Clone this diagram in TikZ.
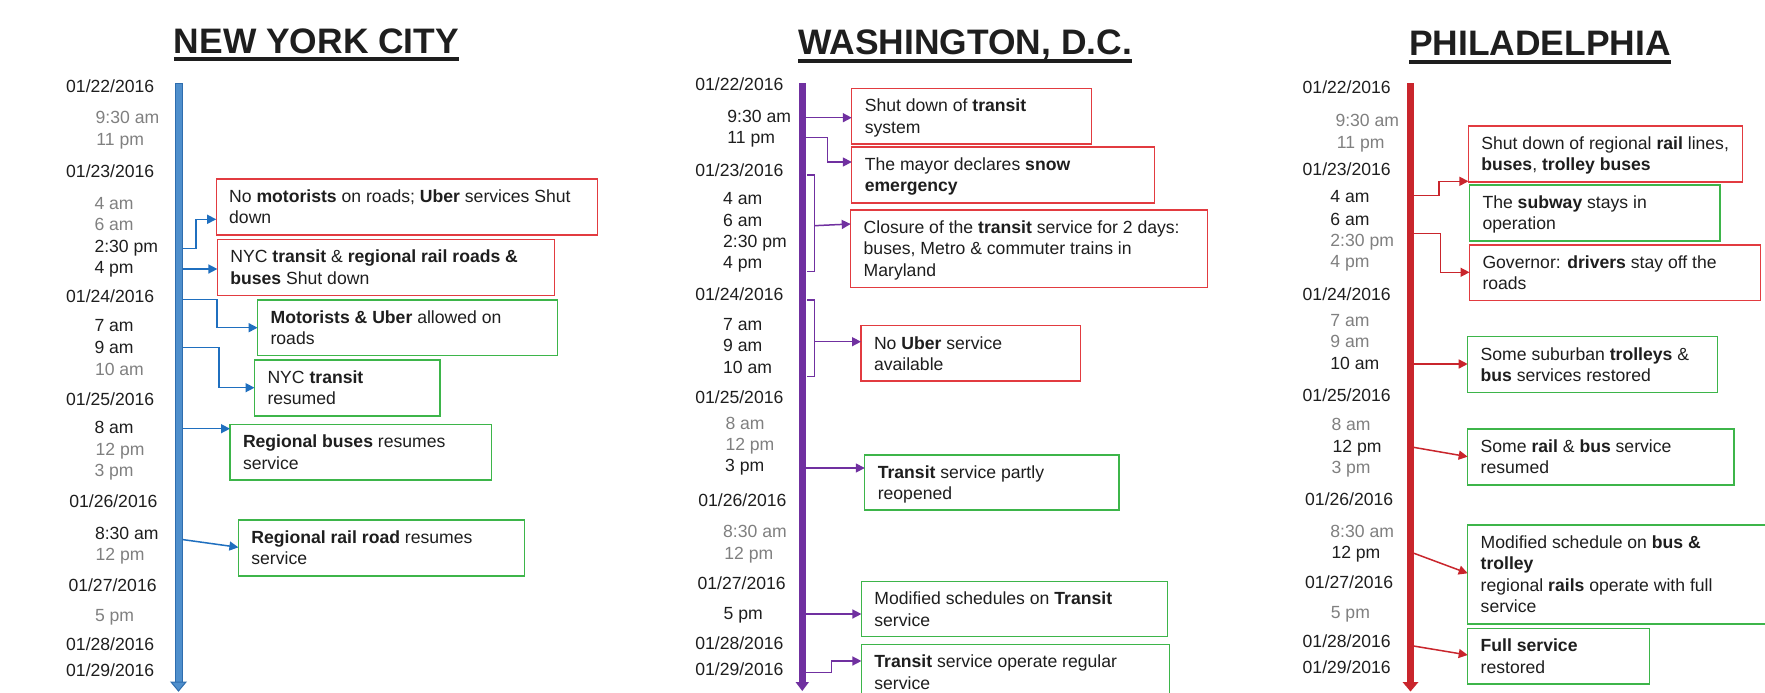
\documentclass[tikz,border=0pt]{standalone}
\usepackage{fontspec}
\setmainfont{Liberation Sans}
\usetikzlibrary{arrows.meta}
\definecolor{txtk}{HTML}{1E1E1E}
\definecolor{txtg}{HTML}{808080}
\definecolor{boxred}{HTML}{E23B40}
\definecolor{boxgreen}{HTML}{3DB54A}
\definecolor{nyline}{HTML}{1F6FBF}
\definecolor{nyfill}{HTML}{4F8FCC}
\definecolor{nyedge}{HTML}{2E6DAE}
\definecolor{dcpurple}{HTML}{7030A0}
\definecolor{phred}{HTML}{C9252C}
\newcommand\mystrut{\rule{0pt}{14pt}}
\newcommand\evbox[7]{%
  \node[#2, minimum width=#5pt, minimum height=#6pt, anchor=north west] (#1) at (#3,#4) {};
  \node[boxtxt] (#1t) at ([xshift=13pt,yshift=-9.5pt]#1.north west) {\mystrut #7};
}
\tikzset{
  lbl/.style={font=\fontsize{17.6}{21.3}\selectfont, inner sep=0pt, outer sep=0pt, anchor=base west, text=txtk},
  lblg/.style={lbl, text=txtg},
  boxtxt/.style={font=\fontsize{17.6}{21.3}\selectfont, inner sep=0pt, outer sep=0pt, align=left, anchor=north west, text=txtk},
  redbox/.style={draw=boxred, line width=1.3pt, inner sep=0pt, outer sep=0pt},
  greenbox/.style={draw=boxgreen, line width=1.3pt, inner sep=0pt, outer sep=0pt},
  citytitle/.style={font=\fontsize{35.4}{40}\selectfont\bfseries, inner sep=0pt, outer sep=0pt, anchor=base, text=txtk},
  uline/.style={line width=4pt, draw=txtk},
  nyarr/.style={draw=nyline, line width=1.5pt, -{Triangle[length=9pt,width=9pt]}},
  dcarr/.style={draw=dcpurple, line width=1.5pt, -{Triangle[length=9pt,width=9pt]}},
  pharr/.style={draw=phred, line width=1.5pt, -{Triangle[length=9pt,width=9pt]}},
  dcbr/.style={draw=dcpurple, line width=1.2pt},
}
\begin{document}
\begin{tikzpicture}[x=1pt,y=-1pt]
\useasboundingbox (0,0) rectangle (1765,693);
\fill[white] (0,0) rectangle (1765,693);
\clip (0,0) rectangle (1765,693);

% ---------- titles ----------
\node[citytitle] (tny) at (316.5,53.5) {NEW YORK CITY};
\draw[uline] ([yshift=-5.5pt]tny.base west) -- ([yshift=-5.5pt]tny.base east);
\node[citytitle] (tdc) at (965,55) {WASHINGTON, D.C.};
\draw[uline] ([yshift=-6.5pt]tdc.base west) -- ([yshift=-6.5pt]tdc.base east);
\node[citytitle] (tph) at (1540,56) {PHILADELPHIA};
\draw[uline] ([yshift=-6pt]tph.base west) -- ([yshift=-6pt]tph.base east);

% ---------- NYC labels ----------
\node[lbl]  (nyd1) at (66.2,92.3) {01/22/2016};
\node[lblg] (nyt1) at (95.7,124) {9:30 am};
\node[lblg] (nyt2) at (96.4,145.3) {11 pm};
\node[lbl]  (nyd2) at (66.2,177.7) {01/23/2016};
\node[lblg] (nyt3) at (94.5,209) {4 am};
\node[lblg] (nyt4) at (94.5,230.7) {6 am};
\node[lbl]  (nyt5) at (94.5,252) {2:30 pm};
\node[lbl]  (nyt6) at (94.5,273.3) {4 pm};
\node[lbl]  (nyd3) at (66.2,302.7) {01/24/2016};
\node[lbl]  (nyt7) at (94.5,331.7) {7 am};
\node[lbl]  (nyt8) at (94.5,353.5) {9 am};
\node[lblg] (nyt9) at (95,375) {10 am};
\node[lbl]  (nyd4) at (66.2,405) {01/25/2016};
\node[lbl]  (nyt10) at (94.5,433.3) {8 am};
\node[lblg] (nyt11) at (95.7,455) {12 pm};
\node[lblg] (nyt12) at (94.5,476) {3 pm};
\node[lbl]  (nyd5) at (69.3,507.7) {01/26/2016};
\node[lbl]  (nyt13) at (95,539) {8:30 am};
\node[lblg] (nyt14) at (95.7,560.7) {12 pm};
\node[lbl]  (nyd6) at (68.5,591.7) {01/27/2016};
\node[lblg] (nyt15) at (95,621.7) {5 pm};
\node[lbl]  (nyd7) at (66.2,650.7) {01/28/2016};
\node[lbl]  (nyd8) at (66.2,676.7) {01/29/2016};

% ---------- NYC boxes ----------
\evbox{nb1}{redbox}{216.2}{179}{381.6}{56}{No \textbf{motorists} on roads; \textbf{Uber} services Shut\\down}
\evbox{nb2}{redbox}{217.4}{239.3}{336.8}{56}{NYC \textbf{transit} \& \textbf{regional rail roads \&}\\\textbf{buses} Shut down}
\evbox{nb3}{greenbox}{257.6}{300}{300}{55.7}{\textbf{Motorists \& Uber} allowed on\\roads}
\evbox{nb4}{greenbox}{254.5}{360}{185.5}{56}{NYC \textbf{transit}\\resumed}
\evbox{nb5}{greenbox}{230}{424.3}{261.4}{55.7}{\textbf{Regional buses} resumes\\service}
\evbox{nb6}{greenbox}{238.4}{520}{285.9}{56}{\textbf{Regional rail road} resumes\\service}

% ---------- NYC connectors ----------
\coordinate (nyA1) at (178.5,248.3);
\coordinate (nyA2) at (178.5,269);
\coordinate (nyA3) at (178.5,299.3);
\coordinate (nyA4) at (178.5,347.5);
\coordinate (nyA5) at (178.5,428.7);
\coordinate (nyA6) at (178.5,539);
\draw[nyarr] (nyA1) -- ++(17.5,0) |- ([yshift=-40.3pt]nb1.north west);
\draw[nyarr] (nyA2) -- ([yshift=-29.7pt]nb2.north west);
\draw[nyarr] (nyA3) -- ++(38.5,0) |- ([yshift=-27.7pt]nb3.north west);
\draw[nyarr] (nyA4) -- ++(40.5,0) |- ([yshift=-27.7pt]nb4.north west);
\draw[nyarr] (nyA5) -- ([yshift=-4.4pt]nb5.north west);
\draw[nyarr] (nyA6) -- ([yshift=-27.3pt]nb6.north west);

% ---------- NYC axis ----------
\filldraw[fill=nyfill, draw=nyedge, line width=1pt] (175,83.3) rectangle (182,682);
\filldraw[fill=nyfill, draw=nyedge, line width=1pt] (171,682) -- (186,682) -- (178.5,691) -- cycle;

% ---------- DC labels ----------
\node[lbl]  (dcd1) at (695.3,90.7) {01/22/2016};
\node[lbl]  (dct1) at (727.4,122) {9:30 am};
\node[lbl]  (dct2) at (727.4,143.3) {11 pm};
\node[lbl]  (dcd2) at (695.3,176) {01/23/2016};
\node[lbl]  (dct3) at (723.2,204) {4 am};
\node[lbl]  (dct4) at (723.2,226) {6 am};
\node[lbl]  (dct5) at (723.2,247.3) {2:30 pm};
\node[lbl]  (dct6) at (723.2,268.3) {4 pm};
\node[lbl]  (dcd3) at (695.3,300.7) {01/24/2016};
\node[lbl]  (dct7) at (723.2,330) {7 am};
\node[lbl]  (dct8) at (723.2,351.7) {9 am};
\node[lbl]  (dct9) at (723.2,373.3) {10 am};
\node[lbl]  (dcd4) at (695.3,403.3) {01/25/2016};
\node[lblg] (dct10) at (725.5,429.3) {8 am};
\node[lblg] (dct11) at (725.5,450) {12 pm};
\node[lbl]  (dct12) at (725.1,471.7) {3 pm};
\node[lbl]  (dcd5) at (698.4,506) {01/26/2016};
\node[lblg] (dct13) at (723.2,537.7) {8:30 am};
\node[lblg] (dct14) at (724.4,559) {12 pm};
\node[lbl]  (dcd6) at (697.6,589.3) {01/27/2016};
\node[lbl]  (dct15) at (723.6,619.3) {5 pm};
\node[lbl]  (dcd7) at (695.3,649.3) {01/28/2016};
\node[lbl]  (dcd8) at (695.3,675) {01/29/2016};

% ---------- DC boxes ----------
\evbox{db1}{redbox}{851.8}{88.3}{240}{55.7}{Shut down of \textbf{transit}\\system}
\evbox{db2}{redbox}{851.8}{147}{302.4}{56}{The mayor declares \textbf{snow}\\\textbf{emergency}}
\evbox{db3}{redbox}{850.7}{210}{357.1}{77.3}{Closure of the \textbf{transit} service for 2 days:\\buses, Metro \& commuter trains in\\Maryland}
\evbox{db4}{redbox}{861}{325.7}{219.3}{55.3}{No \textbf{Uber} service\\available}
\evbox{db5}{greenbox}{864.8}{455}{254.1}{55}{\textbf{Transit} service partly\\reopened}
\evbox{db6}{greenbox}{861.4}{581.3}{306.1}{55.4}{Modified schedules on \textbf{Transit}\\service}
\evbox{db7}{greenbox}{861.4}{644.3}{308}{60}{\textbf{Transit} service operate regular\\service}

% ---------- DC connectors ----------
\coordinate (dcA1) at (802,117.7);
\coordinate (dcA2) at (802,137.7);
\coordinate (dcB3) at (807.4,175);
\coordinate (dcA3) at (814.3,225.7);
\coordinate (dcB4) at (807.4,300);
\coordinate (dcA4) at (814.3,341.7);
\coordinate (dcA5) at (802,468);
\coordinate (dcA6) at (802,614);
\coordinate (dcA7) at (802,672.7);
\draw[dcarr] (dcA1) -- ([yshift=-29.4pt]db1.north west);
\draw[dcarr] (dcA2) -- ++(25.7,0) |- ([yshift=-15pt]db2.north west);
\draw[dcbr] (dcB3) -- ++(6.9,0) -- ++(0,96.7) -- ++(-6.9,0);
\draw[dcarr] (dcA3) -- ([yshift=-14pt]db3.north west);
\draw[dcbr] (dcB4) -- ++(6.9,0) -- ++(0,76.7) -- ++(-6.9,0);
\draw[dcarr] (dcA4) -- ([yshift=-16pt]db4.north west);
\draw[dcarr] (dcA5) -- ([yshift=-13pt]db5.north west);
\draw[dcarr] (dcA6) -- ([yshift=-32.7pt]db6.north west);
\draw[dcarr] (dcA7) -- ++(29.5,0) |- ([yshift=-16.7pt]db7.north west);

% ---------- DC axis ----------
\fill[dcpurple] (799,83.3) rectangle (805.5,682);
\fill[dcpurple] (795.5,682) -- (809,682) -- (802.25,691) -- cycle;

% ---------- Philadelphia labels ----------
\node[lbl]  (phd1) at (1302.7,93.3) {01/22/2016};
\node[lblg] (pht1) at (1335.5,126) {9:30 am};
\node[lblg] (pht2) at (1336.9,148.3) {11 pm};
\node[lbl]  (phd2) at (1302.7,175) {01/23/2016};
\node[lbl]  (pht3) at (1330.4,202.7) {4 am};
\node[lbl]  (pht4) at (1330.4,225) {6 am};
\node[lblg] (pht5) at (1330.4,246.7) {2:30 pm};
\node[lblg] (pht6) at (1330.4,267.3) {4 pm};
\node[lbl]  (phd3) at (1302.7,300) {01/24/2016};
\node[lblg] (pht7) at (1330.4,326) {7 am};
\node[lblg] (pht8) at (1330.4,347) {9 am};
\node[lbl]  (pht9) at (1330.4,369.3) {10 am};
\node[lbl]  (phd4) at (1302.7,401.7) {01/25/2016};
\node[lblg] (pht10) at (1331.5,430) {8 am};
\node[lbl]  (pht11) at (1332.6,452.3) {12 pm};
\node[lblg] (pht12) at (1331.5,473.3) {3 pm};
\node[lbl]  (phd5) at (1305.2,505) {01/26/2016};
\node[lblg] (pht13) at (1330.4,537.3) {8:30 am};
\node[lbl]  (pht14) at (1331.5,558.3) {12 pm};
\node[lbl]  (phd6) at (1305.2,588.3) {01/27/2016};
\node[lblg] (pht15) at (1330.8,618.3) {5 pm};
\node[lbl]  (phd7) at (1302.7,647.3) {01/28/2016};
\node[lbl]  (phd8) at (1302.7,673.3) {01/29/2016};

% ---------- Philadelphia boxes ----------
\evbox{pb1}{redbox}{1468.4}{126}{273.8}{56}{Shut down of regional \textbf{rail} lines,\\\textbf{buses}, \textbf{trolley buses}}
\evbox{pb2}{greenbox}{1469.5}{185}{250.4}{56}{The \textbf{subway} stays in\\operation}
\evbox{pb3}{redbox}{1469.5}{245}{291}{55.7}{Governor: \textbf{drivers} stay off the\\roads}
\evbox{pb4}{greenbox}{1467.7}{336.7}{250.1}{55.6}{Some suburban \textbf{trolleys} \&\\\textbf{bus} services restored}
\evbox{pb5}{greenbox}{1467.7}{429}{266.3}{56}{Some \textbf{rail} \& \textbf{bus} service\\resumed}
\evbox{pb6}{greenbox}{1467.7}{525}{310}{99}{Modified schedule on \textbf{bus \&}\\\textbf{trolley}\\regional \textbf{rails} operate with full\\service}
\evbox{pb7}{greenbox}{1467.7}{628.3}{182}{55.7}{\textbf{Full service}\\restored}

% ---------- Philadelphia connectors ----------
\coordinate (phA1) at (1410.5,195.7);
\coordinate (phA3) at (1410.5,233.3);
\coordinate (phA4) at (1410.5,364);
\coordinate (phA5) at (1410.5,446.8);
\coordinate (phA6) at (1410.5,552);
\coordinate (phA7) at (1410.5,645.5);
\draw[pharr] (phA1) -- ++(28.4,0) |- ([yshift=-55.3pt]pb1.north west);
\draw[pharr] (phA3) -- ++(30.2,0) |- ([yshift=-27.3pt]pb3.north west);
\draw[pharr] (phA4) -- ([yshift=-27.3pt]pb4.north west);
\draw[pharr] (phA5) -- ([yshift=-27.7pt]pb5.north west);
\draw[pharr] (phA6) -- ([yshift=-48.3pt]pb6.north west);
\draw[pharr] (phA7) -- ([yshift=-26.7pt]pb7.north west);

% ---------- Philadelphia axis ----------
\fill[phred] (1406.7,82.7) rectangle (1414.3,682);
\fill[phred] (1402.5,682) -- (1418.5,682) -- (1410.5,691.5) -- cycle;
\end{tikzpicture}
\end{document}
